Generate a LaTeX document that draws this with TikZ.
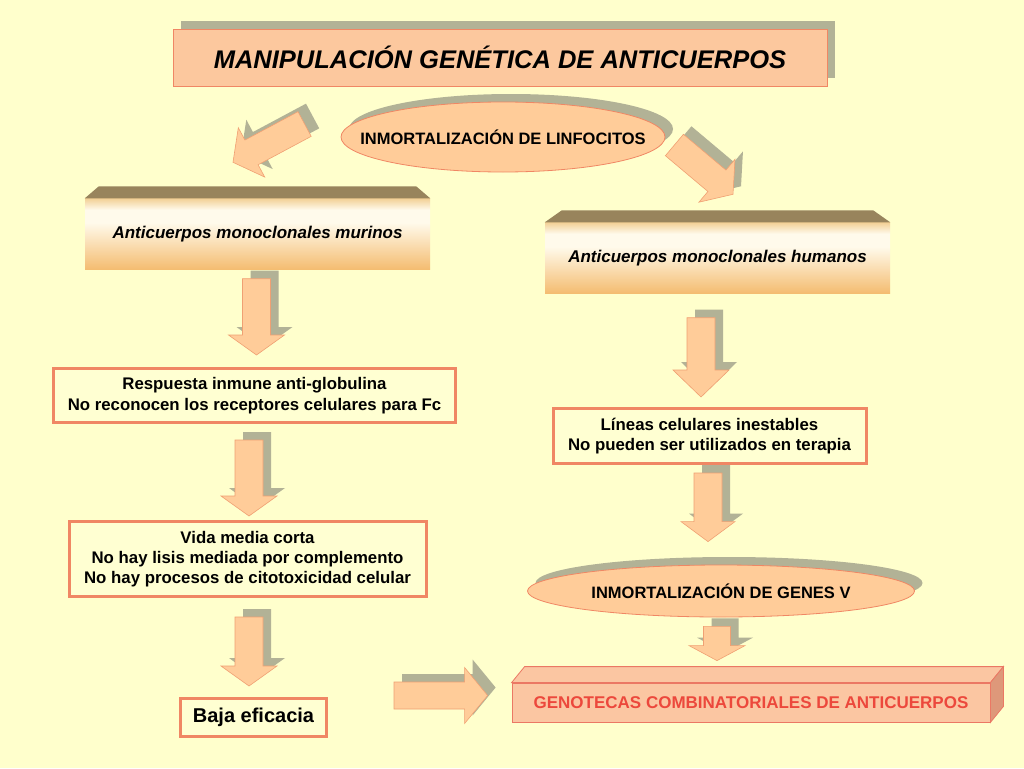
\documentclass[tikz,border=0pt]{standalone}
\usepackage{fontspec}
\setmainfont{Liberation Sans}
\usetikzlibrary{calc,shapes.geometric,shadows}
\definecolor{bgc}{RGB}{255,255,204}
\definecolor{peach}{RGB}{255,204,153}
\definecolor{titlefill}{RGB}{252,200,158}
\definecolor{coral}{RGB}{240,135,100}
\definecolor{shgray}{RGB}{178,178,150}
\definecolor{bevelc}{RGB}{152,132,92}
\definecolor{arrline}{RGB}{240,160,115}
\definecolor{boxtop}{RGB}{242,208,150}
\definecolor{boxmid}{RGB}{255,250,235}
\definecolor{boxbot}{RGB}{244,188,112}
\definecolor{genored}{RGB}{236,72,60}
\definecolor{genofill}{RGB}{251,198,162}
\definecolor{genoside}{RGB}{222,152,122}
\definecolor{genoline}{RGB}{235,120,100}
\definecolor{txtfill}{RGB}{255,255,210}
\pgfdeclareverticalshading{bxshade}{100bp}{color(0bp)=(boxbot); color(25bp)=(boxbot); color(58bp)=(boxmid); color(67bp)=(boxmid); color(75bp)=(boxtop); color(100bp)=(boxtop)}
% block arrow: #1 start, #2 tip, #3 body half width, #4 head half width, #5 head length
\newcommand\blkarr[5]{%
  \coordinate (baS) at #1;
  \coordinate (baE) at #2;
  \coordinate (baB) at ($(baE)!#5!(baS)$);
  \fill[arrshadow,transform canvas={shift={(8pt,8pt)}}]
    ($(baS)!#3!90:(baE)$) -- ($(baB)!#3!90:(baE)$) -- ($(baB)!#4!90:(baE)$) -- (baE)
    -- ($(baB)!#4!-90:(baE)$) -- ($(baB)!#3!-90:(baE)$) -- ($(baS)!#3!-90:(baE)$) -- cycle;
  \filldraw[arrbody]
    ($(baS)!#3!90:(baE)$) -- ($(baB)!#3!90:(baE)$) -- ($(baB)!#4!90:(baE)$) -- (baE)
    -- ($(baB)!#4!-90:(baE)$) -- ($(baB)!#3!-90:(baE)$) -- ($(baS)!#3!-90:(baE)$) -- cycle;
}
\begin{document}
\begin{tikzpicture}[x=1pt,y=-1pt,
  shd/.style={drop shadow={shadow xshift=8pt,shadow yshift=8pt,fill=shgray,opacity=1}},
  titlebox/.style={draw=coral,line width=0.8pt,fill=titlefill,minimum width=654pt,minimum height=57pt,inner sep=0pt,shd,font=\bfseries\itshape\fontsize{25.5}{30}\selectfont},
  oval/.style={ellipse,draw=coral,line width=0.8pt,fill=peach,inner sep=0pt,shd,font=\bfseries\fontsize{16.5}{19}\selectfont},
  txtbox/.style={draw=coral,line width=3pt,fill=txtfill,inner sep=0pt,align=center,font=\bfseries\fontsize{16.8}{20.5}\selectfont},
  bevelbox/.style={shade,shading=bxshade,minimum width=345pt,minimum height=71pt,inner sep=0pt,font=\bfseries\itshape\fontsize{17}{20}\selectfont},
  bevtop/.style={fill=bevelc},
  genobox/.style={draw=genoline,line width=0.8pt,fill=genofill,minimum width=478pt,minimum height=39pt,inner sep=0pt,text=genored,font=\bfseries\fontsize{17}{20}\selectfont},
  arrshadow/.style={fill=shgray},
  arrbody/.style={fill=peach,draw=arrline,line width=0.6pt,line join=miter},
]
\fill[bgc] (0,0) rectangle (1024,768);
\useasboundingbox (0,0) rectangle (1024,768);

% nodes
\node[titlebox] (title) at (500,57.5) {MANIPULACIÓN GENÉTICA DE ANTICUERPOS};
\node[oval,minimum width=324pt,minimum height=70pt] (linf) at (503,137) {\makebox[0pt][c]{INMORTALIZACIÓN DE LINFOCITOS}};

\node[bevelbox] (mur) at (257.5,234) {Anticuerpos monoclonales murinos};
\fill[bevtop] (mur.north west) -- ++(14,-12) -- ($(mur.north east)+(-14,-12)$) -- (mur.north east) -- cycle;
\node[bevelbox] (hum) at (717.5,258) {Anticuerpos monoclonales humanos};
\fill[bevtop] (hum.north west) -- ++(17,-12) -- ($(hum.north east)+(-17,-12)$) -- (hum.north east) -- cycle;

\node[txtbox,minimum width=402pt,minimum height=54pt] (resp) at (254.5,395.5) {Respuesta inmune anti-globulina\\No reconocen los receptores celulares para Fc};
\node[txtbox,minimum width=357pt,minimum height=75pt,font=\bfseries\fontsize{16.8}{20}\selectfont] (vida) at (247.5,559) {Vida media corta\\No hay lisis mediada por complemento\\No hay procesos de citotoxicidad celular};
\node[txtbox,minimum width=146pt,minimum height=38pt,font=\bfseries\fontsize{20}{23}\selectfont] (baja) at (253.5,717.5) {Baja eficacia};
\node[txtbox,minimum width=313pt,minimum height=55pt] (lin) at (709.5,436) {Líneas celulares inestables\\No pueden ser utilizados en terapia};
\node[oval,minimum width=387pt,minimum height=52pt] (genv) at (721,591) {\makebox[0pt][c]{INMORTALIZACIÓN DE GENES V}};

\node[genobox] (geno) at (751,702.5) {GENOTECAS COMBINATORIALES DE ANTICUERPOS};
\filldraw[draw=genoline,line width=0.8pt,fill=genofill] (geno.north west) -- ++(13,-16) -- ($(geno.north east)+(13,-16)$) -- (geno.north east) -- cycle;
\filldraw[draw=genoline,line width=0.8pt,fill=genoside] (geno.north east) -- ++(13,-16) -- ($(geno.south east)+(13,-16)$) -- (geno.south east) -- cycle;

% block arrows (connectors)
\blkarr{($(linf.west)+(-36,-13)$)}{($(mur.north)+(-24.5,-36)$)}{14pt}{28pt}{21pt}
\blkarr{($(linf.east)+(9,8)$)}{($(hum.north)+(15.5,-28)$)}{14pt}{28pt}{21pt}
\blkarr{($(mur.south)+(-1,9)$)}{($(resp.north)+(2,-12)$)}{14pt}{28pt}{20pt}
\blkarr{($(resp.south)+(-5.5,16)$)}{($(vida.north)+(1.5,-4)$)}{14pt}{28pt}{20pt}
\blkarr{($(vida.south)+(1.5,19)$)}{($(baja.north)+(-4.5,-11)$)}{14pt}{28pt}{20pt}
\blkarr{($(hum.south)+(-16.5,24)$)}{($(lin.north)+(-8.5,-10)$)}{14pt}{28pt}{27pt}
\blkarr{($(lin.south)+(-1.5,8)$)}{($(genv.north)+(-13,-23)$)}{14pt}{27pt}{20pt}
\blkarr{($(genv.south)+(-4,9)$)}{($(geno.north)+(-34,-22)$)}{13.5pt}{28pt}{15pt}
\coordinate (hstart) at (394,695.5);
\blkarr{(hstart)}{($(geno.west)+(-24,-7)$)}{13.5pt}{28pt}{23pt}
\end{tikzpicture}
\end{document}
